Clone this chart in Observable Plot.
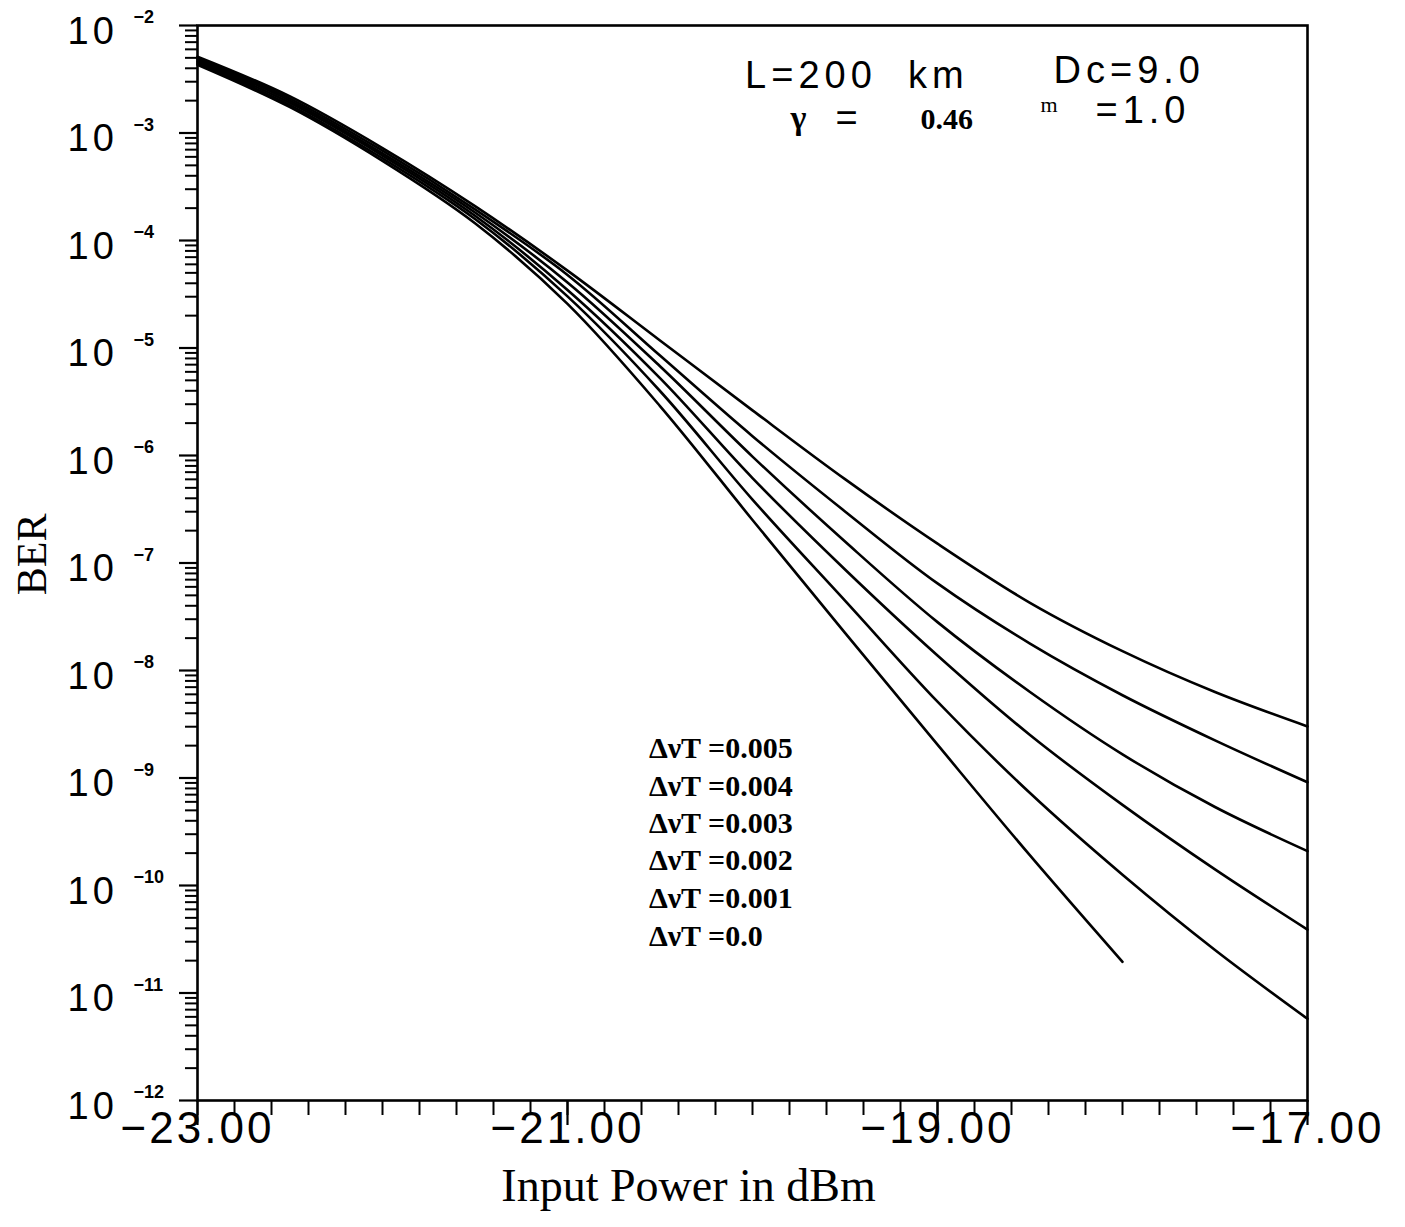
<!DOCTYPE html>
<html><head><meta charset="utf-8">
<script src="https://cdn.jsdelivr.net/npm/d3@7"></script>
<script src="https://cdn.jsdelivr.net/npm/@observablehq/plot@0.6"></script>
<style>
html,body{margin:0;padding:0;background:#fff;}
#chart{width:1405px;height:1227px;}
svg text{white-space:pre;}
</style></head><body><div id="chart"></div>
<script>
// ---- data (x in dBm, values are log10 of BER) ----
const powerDbm = [-23, -22.5, -22, -21.5, -21, -20.5, -20, -19.5, -19, -18.5, -18, -17.5, -17];
const seriesLabels = ["ΔνT =0.005", "ΔνT =0.004", "ΔνT =0.003", "ΔνT =0.002", "ΔνT =0.001", "ΔνT =0.0"];
const log10BER_0005 = [-2.29, -2.66, -3.14, -3.68, -4.28, -4.93, -5.58, -6.22, -6.82, -7.37, -7.82, -8.20, -8.52];
const log10BER_0004 = [-2.305, -2.68, -3.165, -3.71, -4.32, -5.07, -5.82, -6.52, -7.19, -7.75, -8.23, -8.65, -9.04];
const log10BER_0003 = [-2.32, -2.70, -3.19, -3.74, -4.39, -5.17, -6.01, -6.80, -7.55, -8.20, -8.78, -9.27, -9.68];
const log10BER_0002 = [-2.335, -2.72, -3.21, -3.77, -4.46, -5.28, -6.21, -7.06, -7.86, -8.60, -9.25, -9.85, -10.41];
const log10BER_0001 = [-2.35, -2.74, -3.235, -3.80, -4.52, -5.40, -6.41, -7.35, -8.29, -9.14, -9.90, -10.60, -11.24];
const log10BER_0000 = [-2.365, -2.76, -3.26, -3.84, -4.59, -5.54, -6.60, -7.65, -8.69, -9.72, -10.71];
const allSeries = [log10BER_0005, log10BER_0004, log10BER_0003, log10BER_0002, log10BER_0001, log10BER_0000];

const yDecades = [-2, -3, -4, -5, -6, -7, -8, -9, -10, -11, -12];
const xMajorTicks = [-23, -21, -19, -17];
const xTickLabels = ["−23.00", "−21.00", "−19.00", "−17.00"];
const xMinorTicks = d3.range(0, 31).map(i => -23 + i * 0.2);
const yMinorTicks = [];
for (let e = -12; e < -2; e++) for (let k = 2; k <= 9; k++) yMinorTicks.push(k * 10 ** e);

// annotation texts (positions given in data coordinates: dBm, log10 BER)
const legendX = -20.56;
const legendLogY = [-8.726, -9.079, -9.423, -9.767, -10.121, -10.474];
const notes = [
  {t: "L=200\u00a0\u00a0km", x: -20.04, ly: -2.465, font: "Liberation Sans", size: 38, weight: "normal"},
  {t: "Dc=9.0", x: -18.373, ly: -2.419, font: "Liberation Sans", size: 38, weight: "normal"},
  {t: "γ", x: -19.795, ly: -2.865, font: "Liberation Serif", size: 34, weight: "bold"},
  {t: "=", x: -19.551, ly: -2.865, font: "Liberation Sans", size: 38, weight: "normal"},
  {t: "0.46", x: -19.092, ly: -2.875, font: "Liberation Serif", size: 30, weight: "bold"},
  {t: "m", x: -18.443, ly: -2.735, font: "Liberation Serif", size: 22, weight: "normal"},
  {t: "=1.0", x: -18.146, ly: -2.79, font: "Liberation Sans", size: 38, weight: "normal"}
];
const letterSpacing = {"L=200\u00a0\u00a0km": 5, "Dc=9.0": 5, "=1.0": 5, "10": 4};

const rows = [];
allSeries.forEach((s, i) => s.forEach((v, j) => rows.push({series: seriesLabels[i], x: powerDbm[j], y: 10 ** v})));

const noteMarks = notes.map(n => Plot.text([n], {
  x: "x", y: d => 10 ** d.ly, text: "t", textAnchor: "start", lineAnchor: "middle",
  fontFamily: n.font, fontSize: n.size, fontWeight: n.weight, fill: "#000"
}));

const chart = Plot.plot({
  width: 1405, height: 1227,
  marginLeft: 197, marginRight: 98, marginTop: 25, marginBottom: 127,
  x: {domain: [-23, -17]},
  y: {type: "log", domain: [1e-12, 1e-2]},
  style: {background: "#fff", color: "#000", overflow: "visible"},
  marks: [
    Plot.line(rows, {x: "x", y: "y", z: "series", stroke: "#000", strokeWidth: 2.6, curve: "catmull-rom"}),
    Plot.frame({stroke: "#000", strokeWidth: 2.6}),
    Plot.axisY({ticks: yMinorTicks, tickSize: 12, tickFormat: () => "", label: null, strokeWidth: 2}),
    Plot.axisY({ticks: yDecades.map(e => 10 ** e), tickSize: 18, tickFormat: () => "", label: null, strokeWidth: 2.2}),
    Plot.axisX({ticks: xMinorTicks, tickSize: 15, tickFormat: () => "", label: null, strokeWidth: 2}),
    Plot.axisX({ticks: xMajorTicks, tickSize: 25, tickFormat: () => "", label: null, strokeWidth: 2.2}),
    Plot.text(yDecades, {y: d => 10 ** d, frameAnchor: "left", text: () => "10", textAnchor: "start", dx: -130, dy: 6,
      fontSize: 38, fontFamily: "Liberation Sans", fill: "#000"}),
    Plot.text(yDecades, {y: d => 10 ** d, frameAnchor: "left", text: d => "−" + (-d), textAnchor: "start", dx: -64, dy: -8,
      fontSize: 18, fontWeight: "bold", fontFamily: "Liberation Sans", fill: "#000"}),
    Plot.text(xMajorTicks, {x: d => d, frameAnchor: "bottom", text: (d, i) => xTickLabels[i], dy: 42,
      fontSize: 44, fontFamily: "Liberation Sans", fill: "#000"}),
    Plot.text(["BER"], {frameAnchor: "left", y: () => 10 ** -7.3, dx: -165, rotate: -90, fontSize: 42, fontFamily: "Liberation Serif", fill: "#000"}),
    Plot.text(["Input Power in dBm"], {frameAnchor: "bottom", dx: -64, dy: 100, fontSize: 46, fontFamily: "Liberation Serif", fill: "#000"}),
    Plot.text(seriesLabels, {x: () => legendX, y: (d, i) => 10 ** legendLogY[i], text: d => d, textAnchor: "start",
      fontSize: 30, fontWeight: "bold", fontFamily: "Liberation Serif", fill: "#000"}),
    ...noteMarks
  ]
});
d3.select(chart).selectAll("text").each(function() {
  const t = this.textContent;
  if (letterSpacing[t] != null) this.setAttribute("letter-spacing", letterSpacing[t]);
  else if (xTickLabels.includes(t)) this.setAttribute("letter-spacing", 3);
});
document.getElementById("chart").appendChild(chart);
</script>
</body></html>
